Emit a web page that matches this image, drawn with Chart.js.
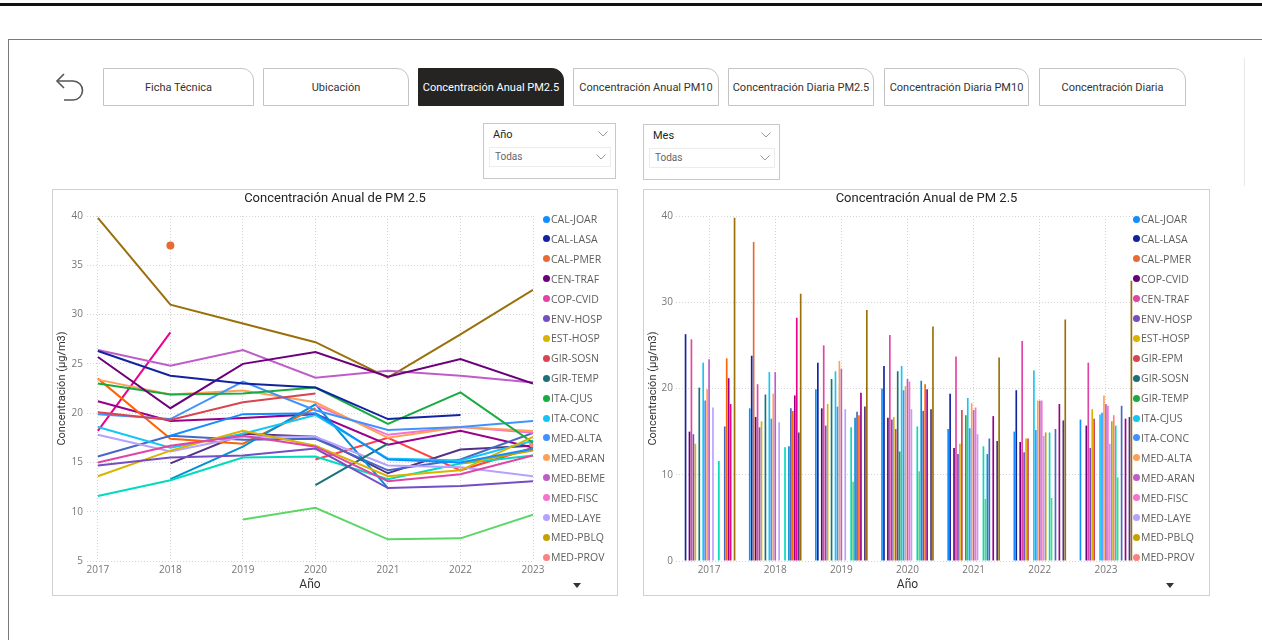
<!DOCTYPE html>
<html lang="es">
<head>
<meta charset="utf-8">
<title>Concentración Anual PM2.5</title>
<script src="https://cdn.jsdelivr.net/npm/chart.js@4.4.1/dist/chart.umd.min.js"></script>
<style>
  html, body { margin:0; padding:0; background:#fff; width:1262px; height:640px; overflow:hidden; font-family:"Open Sans", sans-serif; }
  .abs { position:absolute; }
  #topbar { left:0; top:3px; width:1262px; height:3px; background:#111; }
  #page { left:8px; top:39px; width:1254px; height:601px; border-top:1px solid #7a7a7a; border-left:1px solid #7a7a7a; box-sizing:border-box; }
  #sideline { left:1244px; top:58px; width:1px; height:128px; background:#e8e8e8; }
  .tab { position:absolute; top:68px; height:38px; box-sizing:border-box; border:1px solid #c4c4c4; border-top-right-radius:12px; background:#fff;
         display:flex; align-items:center; justify-content:center; font-family:Roboto, sans-serif; font-size:11px; color:#333; white-space:nowrap; }
  .tab.active { background:#252423; border-color:#252423; color:#fff; }
  .slicer { position:absolute; border:1px solid #c8c8c8; box-sizing:border-box; background:#fff; }
  .slicer .hd { position:absolute; left:9px; top:4px; font-family:Roboto, sans-serif; font-size:11px; color:#252423; }
  .slicer .dd { position:absolute; left:5px; top:23px; right:4px; height:20px; border:1px solid #ececec; box-sizing:border-box; }
  .slicer .dd span { position:absolute; left:5px; top:3px; font-family:Roboto, sans-serif; font-size:10px; color:#666; }
  .panel { position:absolute; border:1px solid #d0d0d0; box-sizing:border-box; background:#fff; }
  .ctitle { position:absolute; font-family:Roboto, sans-serif; font-size:13px; color:#252423; text-align:center; white-space:nowrap; }
  .legend { position:absolute; }
  .legend .it { position:absolute; height:14px; white-space:nowrap; font-family:"Open Sans", sans-serif; font-size:10.5px; color:#605e5c; line-height:14px; }
  .legend .dot { position:absolute; top:3.5px; width:7px; height:7px; border-radius:50%; }
  .legend .tx { position:absolute; left:8px; top:0; }
  .tri { position:absolute; width:0; height:0; border-left:4px solid transparent; border-right:4px solid transparent; border-top:5px solid #333; }
</style>
</head>
<body>
<div id="topbar" class="abs"></div>
<div id="page" class="abs"></div>
<div id="sideline" class="abs"></div>

<svg class="abs" style="left:54px;top:70px" width="32" height="36" viewBox="0 0 32 36">
  <path d="M3 11 L19 11 A9.5 9.5 0 0 1 19 30 L10 30" fill="none" stroke="#555" stroke-width="1.6"/>
  <path d="M10 4 L3 11 L10 18" fill="none" stroke="#555" stroke-width="1.6"/>
</svg>

<div class="tab" style="left:103px;width:151px">Ficha Técnica</div>
<div class="tab" style="left:263px;width:146px">Ubicación</div>
<div class="tab active" style="left:418px;width:146px">Concentración Anual PM2.5</div>
<div class="tab" style="left:573px;width:146px">Concentración Anual PM10</div>
<div class="tab" style="left:728px;width:146px">Concentración Diaria PM2.5</div>
<div class="tab" style="left:884px;width:145px">Concentración Diaria PM10</div>
<div class="tab" style="left:1039px;width:147px">Concentración Diaria</div>

<div class="slicer" style="left:483px;top:123px;width:133px;height:56px">
  <div class="hd">Año</div>
  <svg class="abs" style="left:114px;top:7px" width="10" height="6"><polyline points="0.5,0.5 5,5 9.5,0.5" fill="none" stroke="#999" stroke-width="1"/></svg>
  <div class="dd"><span>Todas</span>
    <svg class="abs" style="left:106px;top:6px" width="10" height="6"><polyline points="0.5,0.5 5,5 9.5,0.5" fill="none" stroke="#999" stroke-width="1"/></svg>
  </div>
</div>
<div class="slicer" style="left:643px;top:124px;width:137px;height:56px">
  <div class="hd">Mes</div>
  <svg class="abs" style="left:117px;top:7px" width="10" height="6"><polyline points="0.5,0.5 5,5 9.5,0.5" fill="none" stroke="#999" stroke-width="1"/></svg>
  <div class="dd"><span>Todas</span>
    <svg class="abs" style="left:110px;top:6px" width="10" height="6"><polyline points="0.5,0.5 5,5 9.5,0.5" fill="none" stroke="#999" stroke-width="1"/></svg>
  </div>
</div>

<div class="panel" style="left:52px;top:189px;width:566px;height:407px"></div>
<div class="panel" style="left:643px;top:189px;width:567px;height:407px"></div>

<canvas id="lineChart" class="abs" style="left:52px;top:189px" width="566" height="407"></canvas>
<canvas id="barChart" class="abs" style="left:643px;top:189px" width="567" height="407"></canvas>

<div class="ctitle" style="left:52px;width:566px;top:190px">Concentración Anual de PM 2.5</div>
<div class="ctitle" style="left:643px;width:567px;top:190px">Concentración Anual de PM 2.5</div>

<div id="lineLegend" class="legend" style="left:543px;top:212px"></div>
<div id="barLegend" class="legend" style="left:1133px;top:212px"></div>

<div class="tri" style="left:573px;top:583px"></div>
<div class="tri" style="left:1166px;top:583px"></div>

<script>
// Annual PM2.5 means (µg/m3) per station, 2017 – 2023
const years = [2017, 2018, 2019, 2020, 2021, 2022, 2023];

const calJoar = [null, 17.7, 19.9, 20.0, 15.3, 15.0, 16.4];
const calLasa = [26.3, 23.8, 23.0, 22.6, 19.4, 19.8, null];
const calPmer = [null, 37.0, null, null, null, null, null];
const cenTraf = [25.7, 20.5, 25.0, 26.2, 23.7, 25.5, 23.0];
const copCvid = [15.0, 16.7, 17.7, 16.6, 13.1, 13.8, 15.7];
const envHosp = [14.7, 15.5, 15.7, 16.4, 12.4, 12.6, 13.1];
const estHosp = [13.6, 16.2, 18.2, 16.7, 13.6, 14.2, 17.6];
const girEpm  = [null, null, null, 15.3, 17.5, 14.2, 16.5];
const girSosn = [20.1, 19.3, 21.1, 22.0, null, null, null];
const girTemp = [null, null, null, 12.7, 16.9, null, null];
const itaCjus = [23.0, 21.9, 22.0, 22.6, 18.9, 22.1, 17.0];
const itaConc = [18.6, 16.5, 17.9, 19.8, 15.4, 15.2, 17.2];
const medAlta = [19.9, 19.4, 23.2, 20.3, 18.3, 18.6, 19.2];
const medAran = [23.4, 21.9, 22.3, 21.1, 17.5, 18.6, 18.2];
const medBeme = [26.4, 24.8, 26.4, 23.6, 24.3, 23.8, 23.1];
const medFisc = [null, null, null, 20.8, 17.8, 18.6, 18.0];
const medLaye = [17.8, 16.1, 17.6, 17.6, 14.7, 14.5, 13.6];
const medPblq = [null, null, null, null, null, 14.9, 16.2];
const medProv = [null, null, null, null, null, null, 16.9];
const medScri = [11.6, 13.2, 15.5, 15.6, 13.3, 14.9, 15.7];
const medSele = [null, null, 9.2, 10.4, 7.2, 7.3, 9.7];
const medTeso = [null, 13.3, 16.6, 20.9, 12.4, null, null];
const medUnnv = [15.6, 17.7, 17.3, 17.4, 14.2, 15.3, 18.0];
const medVill = [23.5, 17.4, 16.9, 20.5, null, null, null];
const sabRame = [21.2, 19.2, 19.5, 19.9, 16.8, 18.2, 16.5];
const sanCris = [18.2, 28.2, null, null, null, null, null];
const subMira = [null, 14.9, 17.9, 17.6, 13.9, 16.3, 16.7];
const surTraf = [39.8, 31.0, 29.1, 27.2, 23.6, 28.0, 32.5];

const stationValues = {
  'CAL-JOAR': calJoar, 'CAL-LASA': calLasa, 'CAL-PMER': calPmer, 'CEN-TRAF': cenTraf,
  'COP-CVID': copCvid, 'ENV-HOSP': envHosp, 'EST-HOSP': estHosp, 'GIR-EPM': girEpm,
  'GIR-SOSN': girSosn, 'GIR-TEMP': girTemp, 'ITA-CJUS': itaCjus, 'ITA-CONC': itaConc,
  'MED-ALTA': medAlta, 'MED-ARAN': medAran, 'MED-BEME': medBeme, 'MED-FISC': medFisc,
  'MED-LAYE': medLaye, 'MED-PBLQ': medPblq, 'MED-PROV': medProv, 'MED-SCRI': medScri,
  'MED-SELE': medSele, 'MED-TESO': medTeso, 'MED-UNNV': medUnnv, 'MED-VILL': medVill,
  'SAB-RAME': sabRame, 'SAN-CRIS': sanCris, 'SUB-MIRA': subMira, 'SUR-TRAF': surTraf
};

// series order of each visual (colours follow position in the order)
const lineOrder = ['CAL-JOAR','CAL-LASA','CAL-PMER','CEN-TRAF','COP-CVID','ENV-HOSP','EST-HOSP',
  'GIR-SOSN','GIR-TEMP','ITA-CJUS','ITA-CONC','MED-ALTA','MED-ARAN','MED-BEME','MED-FISC',
  'MED-LAYE','MED-PBLQ','MED-PROV','MED-SCRI','MED-SELE','MED-TESO','MED-UNNV','MED-VILL',
  'SAB-RAME','SAN-CRIS','SUB-MIRA','SUR-TRAF','GIR-EPM'];
const barOrder = ['CAL-JOAR','CAL-LASA','CAL-PMER','COP-CVID','CEN-TRAF','ENV-HOSP','EST-HOSP',
  'GIR-EPM','GIR-SOSN','GIR-TEMP','ITA-CJUS','ITA-CONC','MED-ALTA','MED-ARAN','MED-FISC',
  'MED-LAYE','MED-PBLQ','MED-PROV','MED-SCRI','MED-SELE','MED-TESO','MED-UNNV','MED-VILL',
  'SAB-RAME','SAN-CRIS','SUB-MIRA','SUR-TRAF'];

const palette = ['#118DFF','#12239E','#E66C37','#6B007B','#E044A7','#744EC2','#D9B300',
  '#D64550','#197278','#1AAB40','#15C6F4','#4092FF','#FFA058','#BE5DC9','#F472D0',
  '#B5A1FF','#C4A200','#FF8080','#00DBBC','#5BD667','#0091D5','#4668C5','#FF6300',
  '#99008A','#EC008C','#533285','#99700A','#FF4141'];

const legendCount = 18;
const tickFont = { family: '"Open Sans", sans-serif', size: 10 };
const axisTitleFont = { family: 'Roboto, sans-serif', size: 12 };
const gridColor = '#d4d4d4';

function buildLegend(el, names) {
  names.slice(0, legendCount).forEach((name, i) => {
    const it = document.createElement('div');
    it.className = 'it';
    it.style.top = (i * 19.9) + 'px';
    it.innerHTML = '<span class="dot" style="background:' + palette[i] + '"></span><span class="tx">' + name + '</span>';
    el.appendChild(it);
  });
}
buildLegend(document.getElementById('lineLegend'), lineOrder);
buildLegend(document.getElementById('barLegend'), barOrder);

// lone values (no neighbour on either side) are shown as a dot
function loneRadius(ctx) {
  const d = ctx.dataset.data, i = ctx.dataIndex;
  if (!d[i] || d[i].y == null) return 0;
  const prev = i > 0 ? d[i - 1].y : null;
  const next = i < d.length - 1 ? d[i + 1].y : null;
  return (prev == null && next == null) ? 4 : 0;
}

new Chart(document.getElementById('lineChart'), {
  type: 'line',
  data: {
    datasets: lineOrder.map((name, i) => ({
      label: name,
      data: stationValues[name].map((v, k) => ({ x: years[k], y: v })),
      borderColor: palette[i],
      backgroundColor: palette[i],
      borderWidth: 2,
      pointRadius: loneRadius,
      pointBorderWidth: 0,
      pointHoverRadius: 0,
      tension: 0,
      spanGaps: false
    }))
  },
  options: {
    responsive: false, animation: false, devicePixelRatio: 1,
    layout: { padding: { top: 27, right: 85, bottom: 0, left: 0 } },
    plugins: { legend: { display: false }, tooltip: { enabled: false } },
    scales: {
      x: {
        type: 'linear', min: 2016.85, max: 2023,
        ticks: { stepSize: 1, includeBounds: false, autoSkip: false, maxRotation: 0, padding: 3,
                 font: tickFont, color: '#777', callback: v => String(v) },
        grid: { color: gridColor, drawTicks: false },
        border: { display: false, dash: [1, 2] },
        title: { display: true, text: 'Año', font: axisTitleFont, color: '#333', padding: { top: 0, bottom: 4 } },
        afterFit(s) { s.height = 35; }
      },
      y: {
        min: 5, max: 40,
        ticks: { stepSize: 5, padding: 4, font: tickFont, color: '#777' },
        grid: { color: gridColor, drawTicks: false },
        border: { display: false, dash: [1, 2] },
        title: { display: true, text: 'Concentración (µg/m3)', font: { family: 'Roboto, sans-serif', size: 11 },
                 color: '#333', padding: { top: 3.4, bottom: 0 } },
        afterFit(s) { s.width = 35; }
      }
    }
  }
});

new Chart(document.getElementById('barChart'), {
  type: 'bar',
  data: {
    labels: years.map(String),
    datasets: barOrder.map((name, i) => ({
      label: name,
      data: stationValues[name],
      backgroundColor: palette[i],
      borderWidth: 0,
      categoryPercentage: 0.8,
      barPercentage: 0.85
    }))
  },
  options: {
    responsive: false, animation: false, devicePixelRatio: 1,
    layout: { padding: { top: 27, right: 71, bottom: 0, left: 0 } },
    plugins: { legend: { display: false }, tooltip: { enabled: false } },
    scales: {
      x: {
        offset: true,
        ticks: { padding: 3, font: tickFont, color: '#777', maxRotation: 0 },
        grid: { color: gridColor, drawTicks: false, offset: false },
        border: { display: false, dash: [1, 2] },
        title: { display: true, text: 'Año', font: axisTitleFont, color: '#333', padding: { top: 0, bottom: 4 } },
        afterFit(s) { s.height = 35; }
      },
      y: {
        min: 0, max: 40,
        ticks: { stepSize: 10, padding: 3, font: tickFont, color: '#777' },
        grid: { color: gridColor, drawTicks: false },
        border: { display: false, dash: [1, 2] },
        title: { display: true, text: 'Concentración (µg/m3)', font: { family: 'Roboto, sans-serif', size: 11 },
                 color: '#333', padding: { top: 3.4, bottom: 0 } },
        afterFit(s) { s.width = 33; }
      }
    }
  }
});
</script>
</body>
</html>
